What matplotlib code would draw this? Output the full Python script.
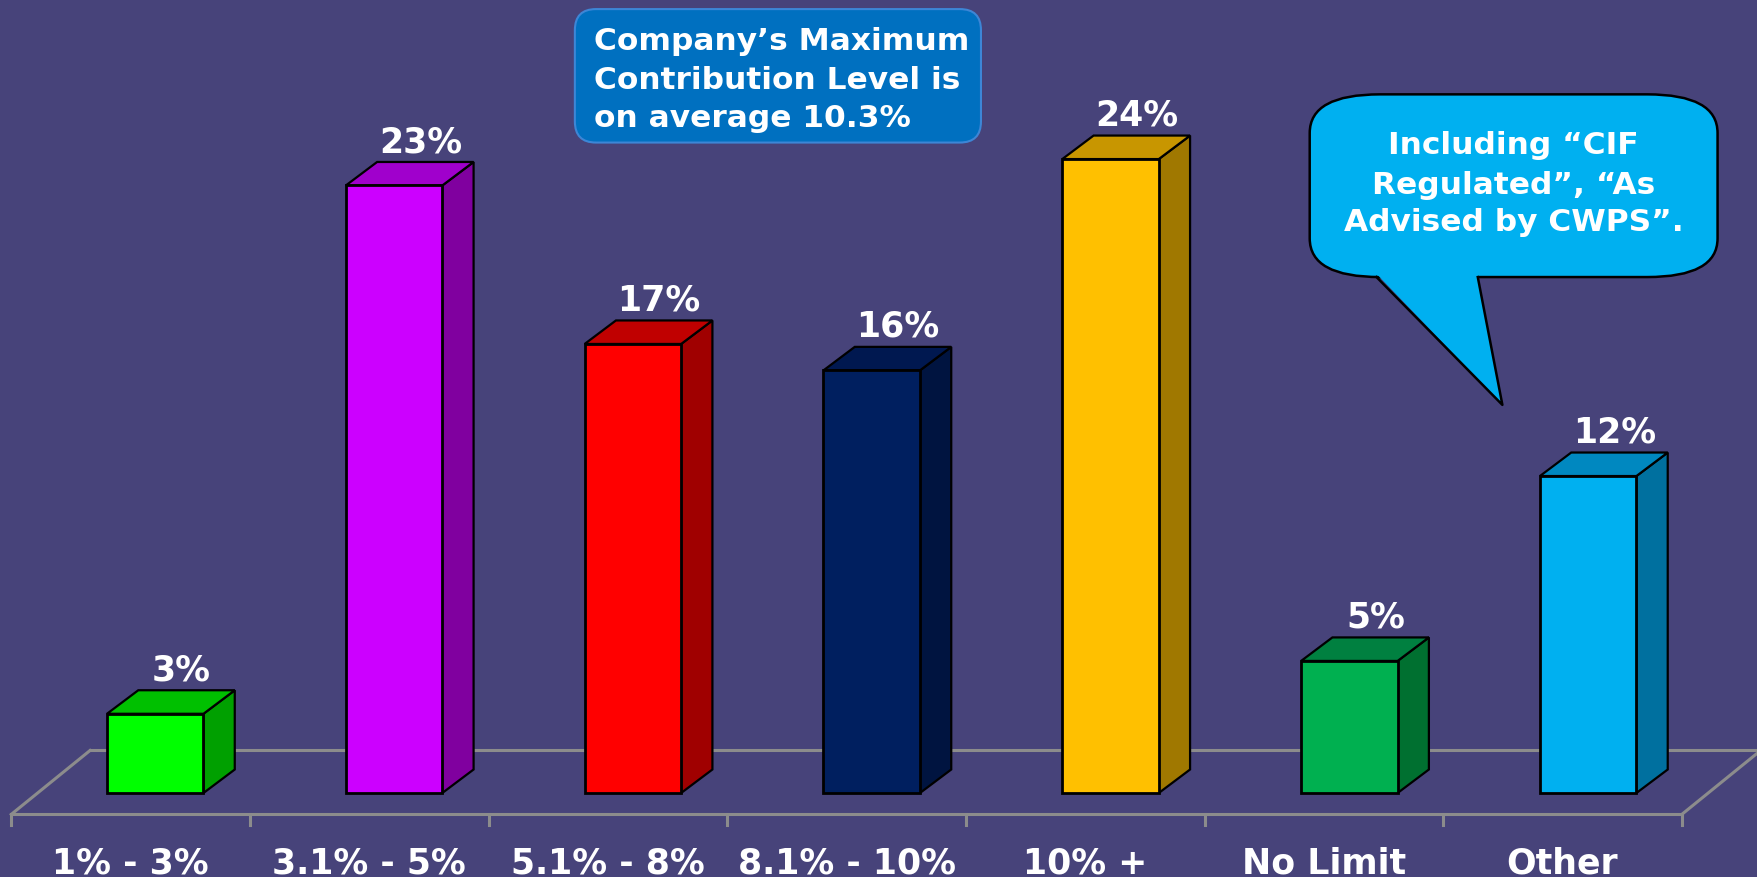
import numpy as np
from matplotlib import pyplot as plt
from matplotlib.patches import Polygon, FancyBboxPatch

# data
categories = ['1% - 3%', '3.1% - 5%', '5.1% - 8%', '8.1% - 10%', '10% +', 'No Limit', 'Other']
values = [3, 23, 17, 16, 24, 5, 12]
value_labels = ['3%', '23%', '17%', '16%', '24%', '5%', '12%']

front_colors = ['#00FF00', '#CC00FF', '#FF0000', '#001F5F', '#FFC000', '#00B050', '#00B0F0']
side_colors = ['#00A000', '#80009F', '#A00000', '#001440', '#A07800', '#007030', '#00709F']
top_colors = ['#00C000', '#A000CC', '#C00000', '#001850', '#C89600', '#008040', '#0088C0']

bg = '#47437A'
floor_col = '#8C8C8C'

# geometry of the fake 3D look
w = 0.404      # bar width (category units)
dx = 0.131     # depth offset in x
dy = 0.89      # depth offset in y (percent units)

fig = plt.figure(figsize=(17.58, 8.78), dpi=100)
fig.patch.set_facecolor(bg)
ax = fig.add_axes([0, 0, 1, 1])
ax.set_facecolor(bg)
ax.set_xlim(-0.650, 6.711)
ax.set_ylim(-3.18, 30.06)
ax.axis('off')

x = np.arange(len(categories))

# floor
f_front, f_back = -0.81, 1.61
fx0, fx1 = -0.603, 6.392
fdx = 0.33
ax.plot([fx0, fx1], [f_front, f_front], color=floor_col, lw=2.2, zorder=1)
ax.plot([fx0 + fdx, fx1 + fdx], [f_back, f_back], color=floor_col, lw=2.2, zorder=1)
ax.plot([fx0, fx0 + fdx], [f_front, f_back], color=floor_col, lw=2.2, zorder=1)
ax.plot([fx1, fx1 + fdx], [f_front, f_back], color=floor_col, lw=2.2, zorder=1)
for k in range(len(categories) + 1):
    ax.plot([fx0 + k * (fx1 - fx0) / 7] * 2, [f_front, f_front - 0.42],
            color=floor_col, lw=2.2, zorder=1)

# bars
ax.bar(x, values, width=w, color=front_colors, edgecolor='black', lw=2.0, zorder=3)
for i, v in enumerate(values):
    xl, xr = x[i] - w / 2, x[i] + w / 2
    side = Polygon([(xr, 0), (xr + dx, dy), (xr + dx, v + dy), (xr, v)],
                   closed=True, fc=side_colors[i], ec='black', lw=1.6, zorder=2)
    top = Polygon([(xl, v), (xr, v), (xr + dx, v + dy), (xl + dx, v + dy)],
                  closed=True, fc=top_colors[i], ec='black', lw=1.6, zorder=2)
    ax.add_patch(side)
    ax.add_patch(top)
    ax.text(x[i] + 0.11, v + dy + 0.15, value_labels[i], ha='center', va='bottom',
            color='white', fontsize=25, fontweight='bold', zorder=4)

# category labels
for k, c in enumerate(categories):
    ax.text(fx0 + (k + 0.5) * (fx1 - fx0) / 7, -2.63, c, ha='center', va='center',
            color='white', fontsize=25, fontweight='bold')

# note box
box = FancyBboxPatch((0.327, 0.8365), 0.231, 0.152,
                     boxstyle='round,pad=0,rounding_size=0.012', mutation_aspect=2.0,
                     transform=ax.transAxes, fc='#0070C0', ec='#3D86D6', lw=1.5, zorder=5)
ax.add_patch(box)
for txt, yy in zip(['Company\u2019s Maximum', 'Contribution Level is', 'on average 10.3%'],
                   [0.9527, 0.9085, 0.8655]):
    ax.text(0.338, yy, txt, transform=ax.transAxes, ha='left', va='center',
            color='white', fontsize=22.5, fontweight='bold', zorder=6)

# callout
call = FancyBboxPatch((0.745, 0.6833), 0.232, 0.2081,
                      boxstyle='round,pad=0,rounding_size=0.04', mutation_aspect=1.1,
                      transform=ax.transAxes, fc='#00B0F0', ec='black', lw=1.8, zorder=5)
ax.add_patch(call)
tail = Polygon([(0.783, 0.687), (0.8406, 0.687), (0.8546, 0.5377)], closed=True,
               transform=ax.transAxes, fc='#00B0F0', ec='none', zorder=6)
ax.add_patch(tail)
ax.plot([0.783, 0.8546, 0.8406], [0.6833, 0.5377, 0.6833], transform=ax.transAxes,
        color='black', lw=1.8, zorder=7)
for txt, yy in zip(['Including \u201cCIF', 'Regulated\u201d, \u201cAs',
                    'Advised by CWPS\u201d.'], [0.834, 0.789, 0.747]):
    ax.text(0.861, yy, txt, transform=ax.transAxes, ha='center', va='center',
            color='white', fontsize=22.5, fontweight='bold', zorder=8)

fig.savefig('out.png', dpi=100, facecolor=bg)
